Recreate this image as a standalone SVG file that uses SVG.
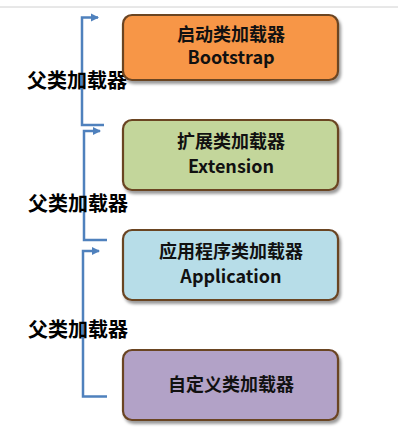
<svg xmlns="http://www.w3.org/2000/svg" width="398" height="436" viewBox="0 0 398 436">
<style>
.box{stroke:#6B4423;stroke-width:2.2}
.t{font-family:"Noto Sans CJK SC","Noto Sans",sans-serif;font-weight:bold;font-size:18px;fill:#111;text-anchor:middle}
.lbl{font-family:"Noto Sans CJK SC","Noto Sans",sans-serif;font-weight:bold;font-size:20px;fill:#000;text-anchor:middle}
.c{fill:none;stroke:#4F81BD;stroke-width:2.5}
</style>
<defs>
<filter id="sh" x="-10%" y="-10%" width="125%" height="135%">
<feDropShadow dx="2" dy="3" stdDeviation="1.5" flood-color="#000" flood-opacity="0.4"/>
</filter>
<marker id="ar" markerWidth="9" markerHeight="9" refX="7" refY="4.5" orient="auto" markerUnits="userSpaceOnUse">
<path d="M0,0.5 L8,4.5 L0,8.5 Z" fill="#4F81BD"/>
</marker>
</defs>
<rect width="398" height="436" fill="#fff"/>
<line x1="0" y1="7" x2="398" y2="7" stroke="#d0d0d0" stroke-width="1"/>
<g id="connectors">
<path class="c" d="M104,125 H82 V17.5 H98" marker-end="url(#ar)"/>
<path class="c" d="M107,240 H84 V131 H100" marker-end="url(#ar)"/>
<path class="c" d="M107,396.5 H83 V251 H99" marker-end="url(#ar)"/>
</g>
<g id="label1"><text class="lbl" x="77" y="88">父类加载器</text></g>
<g id="label2"><text class="lbl" x="78" y="211">父类加载器</text></g>
<g id="label3"><text class="lbl" x="78" y="337">父类加载器</text></g>
<g id="bootstrap">
<rect class="box" x="123" y="15" width="215" height="65" rx="9" fill="#F79646" filter="url(#sh)"/>
<text class="t" x="231" y="41">启动类加载器</text>
<text class="t" x="231" y="64">Bootstrap</text>
</g>
<g id="extension">
<rect class="box" x="123" y="120" width="215" height="70" rx="9" fill="#C3D69B" filter="url(#sh)"/>
<text class="t" x="231" y="148">扩展类加载器</text>
<text class="t" x="231" y="172.5">Extension</text>
</g>
<g id="application">
<rect class="box" x="123" y="230" width="215" height="70" rx="9" fill="#B7DDE8" filter="url(#sh)"/>
<text class="t" x="231" y="258">应用程序类加载器</text>
<text class="t" x="231" y="282.5">Application</text>
</g>
<g id="custom">
<rect class="box" x="123" y="350" width="215" height="70" rx="9" fill="#B2A2C7" filter="url(#sh)"/>
<text class="t" x="231" y="390.5">自定义类加载器</text>
</g>
</svg>
